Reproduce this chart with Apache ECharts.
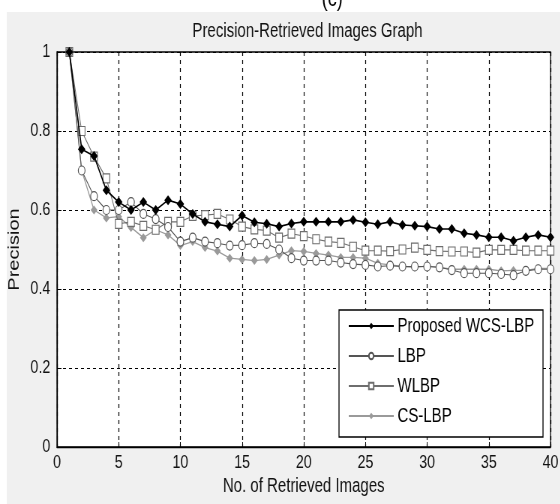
<!DOCTYPE html>
<html>
<head>
<meta charset="utf-8">
<script src="https://cdn.jsdelivr.net/npm/echarts@6/dist/echarts.min.js"></script>
<style>
html, body { margin: 0; padding: 0; background: #fff; overflow: hidden; }
/* 原图是横向压缩过的 MATLAB 图：按宽 747 绘制，再横向缩放到 560 */
#wrap { width: 560px; height: 504px; overflow: hidden; }
#chart { width: 747px; height: 504px; transform: scaleX(0.75); transform-origin: 0 0; }
</style>
</head>
<body>
<div id="wrap"><div id="chart"></div></div>
<script>
// 横轴：检索图像数 1..40
const imageCounts = [1,2,3,4,5,6,7,8,9,10,11,12,13,14,15,16,17,18,19,20,
                     21,22,23,24,25,26,27,28,29,30,31,32,33,34,35,36,37,38,39,40];
const yTicks = [0, 0.2, 0.4, 0.6, 0.8, 1];

const wcsLbp = [1.00,0.754,0.737,0.65,0.62,0.60,0.62,0.60,0.625,0.615,
                0.59,0.57,0.564,0.558,0.586,0.569,0.565,0.558,0.566,0.57,
                0.57,0.57,0.57,0.575,0.569,0.564,0.57,0.562,0.56,0.558,
                0.552,0.552,0.541,0.537,0.531,0.531,0.522,0.531,0.537,0.531];
const lbp    = [1.00,0.70,0.635,0.60,0.60,0.62,0.59,0.577,0.557,0.52,
                0.53,0.52,0.516,0.51,0.511,0.516,0.514,0.50,0.478,0.472,
                0.472,0.472,0.467,0.463,0.461,0.457,0.459,0.457,0.457,0.457,
                0.455,0.448,0.44,0.44,0.44,0.438,0.435,0.446,0.45,0.45];
const wlbp   = [1.00,0.80,0.735,0.68,0.565,0.57,0.56,0.55,0.57,0.57,
                0.585,0.587,0.59,0.576,0.558,0.551,0.548,0.53,0.54,0.534,
                0.526,0.52,0.517,0.507,0.497,0.497,0.496,0.50,0.505,0.499,
                0.496,0.495,0.495,0.492,0.499,0.499,0.499,0.497,0.497,0.497];
const csLbp  = [1.00,0.70,0.60,0.58,0.583,0.556,0.53,0.55,0.537,0.51,
                0.52,0.505,0.496,0.478,0.475,0.472,0.475,0.486,0.497,0.495,
                0.49,0.486,0.48,0.48,0.478,0.465,0.461,0.457,0.455,0.458,
                0.455,0.45,0.45,0.45,0.45,0.446,0.447,0.447,0.452,0.452];

const font = "'Liberation Sans', Arial, sans-serif";
const pairs = arr => arr.map((v, i) => [imageCounts[i], v]);

const chart = echarts.init(document.getElementById('chart'));
chart.setOption({
    backgroundColor: '#fff',
    animation: false,
    textStyle: { fontFamily: font },
    graphic: [
        { type: 'text', left: 429, top: -13, z: 0,
          style: { text: '(c)', font: '24px ' + font, fill: '#000' } },
        { type: 'rect', shape: { x: 9, y: 12, width: 738, height: 492 }, z: -1, silent: true,
          style: { fill: '#f0f0f0' } },
        { type: 'rect', shape: { x: 452, y: 310, width: 272, height: 127 }, z: 50,
          style: { fill: '#fff', stroke: '#000', lineWidth: 1.3 } }
    ],
    title: {
        text: 'Precision-Retrieved Images Graph',
        left: 405, textAlign: 'center', top: 16,
        textStyle: { fontFamily: font, fontSize: 20, fontWeight: 'normal', color: '#111' }
    },
    grid: {
        left: 76, top: 52, right: 13, bottom: 57, outerBoundsMode: 'none',
        show: true, backgroundColor: '#fff', borderColor: '#000', borderWidth: 1.3
    },
    legend: {
        orient: 'vertical', left: 464, top: 316, padding: 0, z: 60,
        itemGap: 10, itemWidth: 60, itemHeight: 8,
        textStyle: { fontFamily: font, fontSize: 20, lineHeight: 20, color: '#000' },
        data: ['Proposed WCS-LBP', 'LBP', 'WLBP', 'CS-LBP']
    },
    xAxis: {
        type: 'value', min: 0, max: 40, interval: 5,
        name: 'No. of Retrieved Images', nameLocation: 'middle', nameGap: 28,
        nameTextStyle: { fontFamily: font, fontSize: 20, color: '#111' },
        axisLine: { lineStyle: { color: '#000', width: 1.3 } },
        axisTick: { inside: true, length: 5, lineStyle: { color: '#000' } },
        axisLabel: { fontFamily: font, fontSize: 19, color: '#111', margin: 6 },
        splitLine: { show: true, lineStyle: { color: '#000', type: [4, 4], width: 1.2 } }
    },
    yAxis: {
        type: 'value', min: 0, max: 1, interval: 0.2,
        name: 'Precision', nameLocation: 'middle', nameGap: 39,
        nameTextStyle: { fontFamily: font, fontSize: 20, color: '#111' },
        axisLine: { show: true, lineStyle: { color: '#000', width: 1.3 } },
        axisTick: { show: true, inside: true, length: 6, lineStyle: { color: '#000' } },
        axisLabel: { fontFamily: font, fontSize: 19, color: '#111', margin: 9,
                     formatter: v => yTicks.includes(+v.toFixed(1)) ? String(+v.toFixed(1)) : '' },
        splitLine: { show: true, lineStyle: { color: '#000', type: [4, 4], width: 1 } }
    },
    series: [
        { name: 'CS-LBP', type: 'line', data: pairs(csLbp), z: 2,
          symbol: 'diamond', symbolSize: 9,
          lineStyle: { color: '#9a9a9a', width: 1.3 },
          itemStyle: { color: '#9a9a9a' } },
        { name: 'WLBP', type: 'line', data: pairs(wlbp), z: 3,
          symbol: 'rect', symbolSize: 9,
          lineStyle: { color: '#6e6e6e', width: 1.1 },
          itemStyle: { color: '#fff', borderColor: '#6e6e6e', borderWidth: 1.2 } },
        { name: 'LBP', type: 'line', data: pairs(lbp), z: 4,
          symbol: 'circle', symbolSize: 9,
          lineStyle: { color: '#555', width: 1.1 },
          itemStyle: { color: '#fff', borderColor: '#555', borderWidth: 1.2 } },
        { name: 'Proposed WCS-LBP', type: 'line', data: pairs(wcsLbp), z: 5,
          symbol: 'diamond', symbolSize: 10,
          lineStyle: { color: '#000', width: 1.6 },
          itemStyle: { color: '#000' } }
    ]
});
</script>
</body>
</html>
